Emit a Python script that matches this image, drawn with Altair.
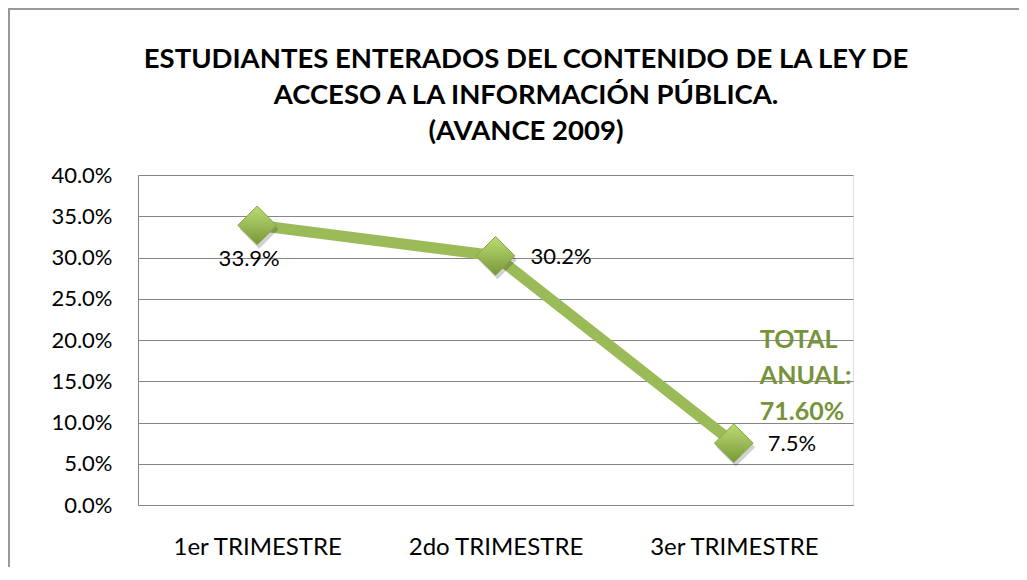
import altair as alt
import pandas as pd

categories = ["1er TRIMESTRE", "2do TRIMESTRE", "3er TRIMESTRE"]
values = [0.339, 0.302, 0.075]
labels = ["33.9%", "30.2%", "7.5%"]
title_lines = ["ESTUDIANTES ENTERADOS DEL CONTENIDO DE LA LEY DE",
               "ACCESO A LA INFORMACIÓN PÚBLICA.",
               "(AVANCE 2009)"]
total_text = ["TOTAL", "ANUAL:", "71.60%"]
total_pos = ["3er TRIMESTRE", 0.2]
y_ticks = [0.0, 0.05, 0.10, 0.15, 0.20, 0.25, 0.30, 0.35, 0.40]

FONT = "Lato"
GRID = "#868686"
GREEN = "#9BBB59"

df = pd.DataFrame({"cat": categories, "val": values, "lab": labels})

xenc = alt.X("cat:N", sort=categories, title=None,
             scale=alt.Scale(type="point", padding=0.5),
             axis=alt.Axis(labelAngle=0, ticks=False, labelFontSize=24, labelColor="black",
                           labelFont=FONT, labelPadding=30, domainColor=GRID, grid=False))
yenc = alt.Y("val:Q", title=None, scale=alt.Scale(domain=[0, 0.4], nice=False),
             axis=alt.Axis(values=y_ticks, format=".1%", ticks=False, labelFontSize=22,
                           labelColor="black", labelFont=FONT, labelPadding=26,
                           domainColor=GRID, gridColor=GRID, gridWidth=1))

base = alt.Chart(df)

line = base.mark_line(color=GREEN, strokeWidth=11).encode(x=xenc, y=yenc)

shadow = base.mark_point(shape="diamond", size=1500, filled=True, color="#000000",
                         opacity=0.18, yOffset=4, xOffset=2).encode(x=xenc, y=yenc)

pts = base.mark_point(
    shape="diamond", size=1500, filled=True, opacity=1,
    fill=alt.Gradient(gradient="linear", x1=0, y1=0, x2=0, y2=1,
                      stops=[alt.GradientStop(color="#b9dc6e", offset=0),
                             alt.GradientStop(color="#9BBB59", offset=0.5),
                             alt.GradientStop(color="#789834", offset=1)]),
    stroke="#86a647", strokeWidth=1).encode(x=xenc, y=yenc)

def lab_layer(cat, dx, dy, align):
    return base.transform_filter(alt.datum.cat == cat).mark_text(
        font=FONT, fontSize=22, color="black", align=align, baseline="middle", dx=dx, dy=dy
    ).encode(x=xenc, y=yenc, text="lab:N")

l1 = lab_layer(categories[0], -8, 34, "center")
l2 = lab_layer(categories[1], 35, 1, "left")
l3 = lab_layer(categories[2], 34, 1, "left")

tot_df = pd.DataFrame({"cat": [total_pos[0]], "val": [total_pos[1]], "t": [total_text]})
total = alt.Chart(tot_df).mark_text(
    font=FONT, fontSize=25, fontWeight="bold", color="#77933C", align="left",
    baseline="middle", dx=26, lineHeight=36
).encode(x=xenc, y=yenc, text="t")

title_df = pd.DataFrame({"t": [title_lines]})
title = alt.Chart(title_df).mark_text(
    font=FONT, fontSize=27.5, fontWeight="bold", color="black", align="center",
    baseline="middle", lineHeight=36
).encode(x=alt.value(388), y=alt.value(-115), text="t")

border_top = alt.Chart(df).mark_rule(color="#999999", strokeWidth=2).encode(
    x=alt.value(-130), x2=alt.value(900), y=alt.value(-166))
border_left = alt.Chart(df).mark_rule(color="#999999", strokeWidth=2).encode(
    x=alt.value(-129), y=alt.value(-166), y2=alt.value(400))

chart = alt.layer(border_top, border_left, title, line, shadow, pts, l1, l2, l3, total).properties(
    width=715, height=330,
    autosize=alt.AutoSizeParams(type="none"),
    padding={"left": 130, "top": 167, "right": 166, "bottom": 62},
).configure_view(stroke="transparent", strokeWidth=0).configure(background="white")

chart.save("out.html", embed_options={"renderer": "svg", "actions": False})
